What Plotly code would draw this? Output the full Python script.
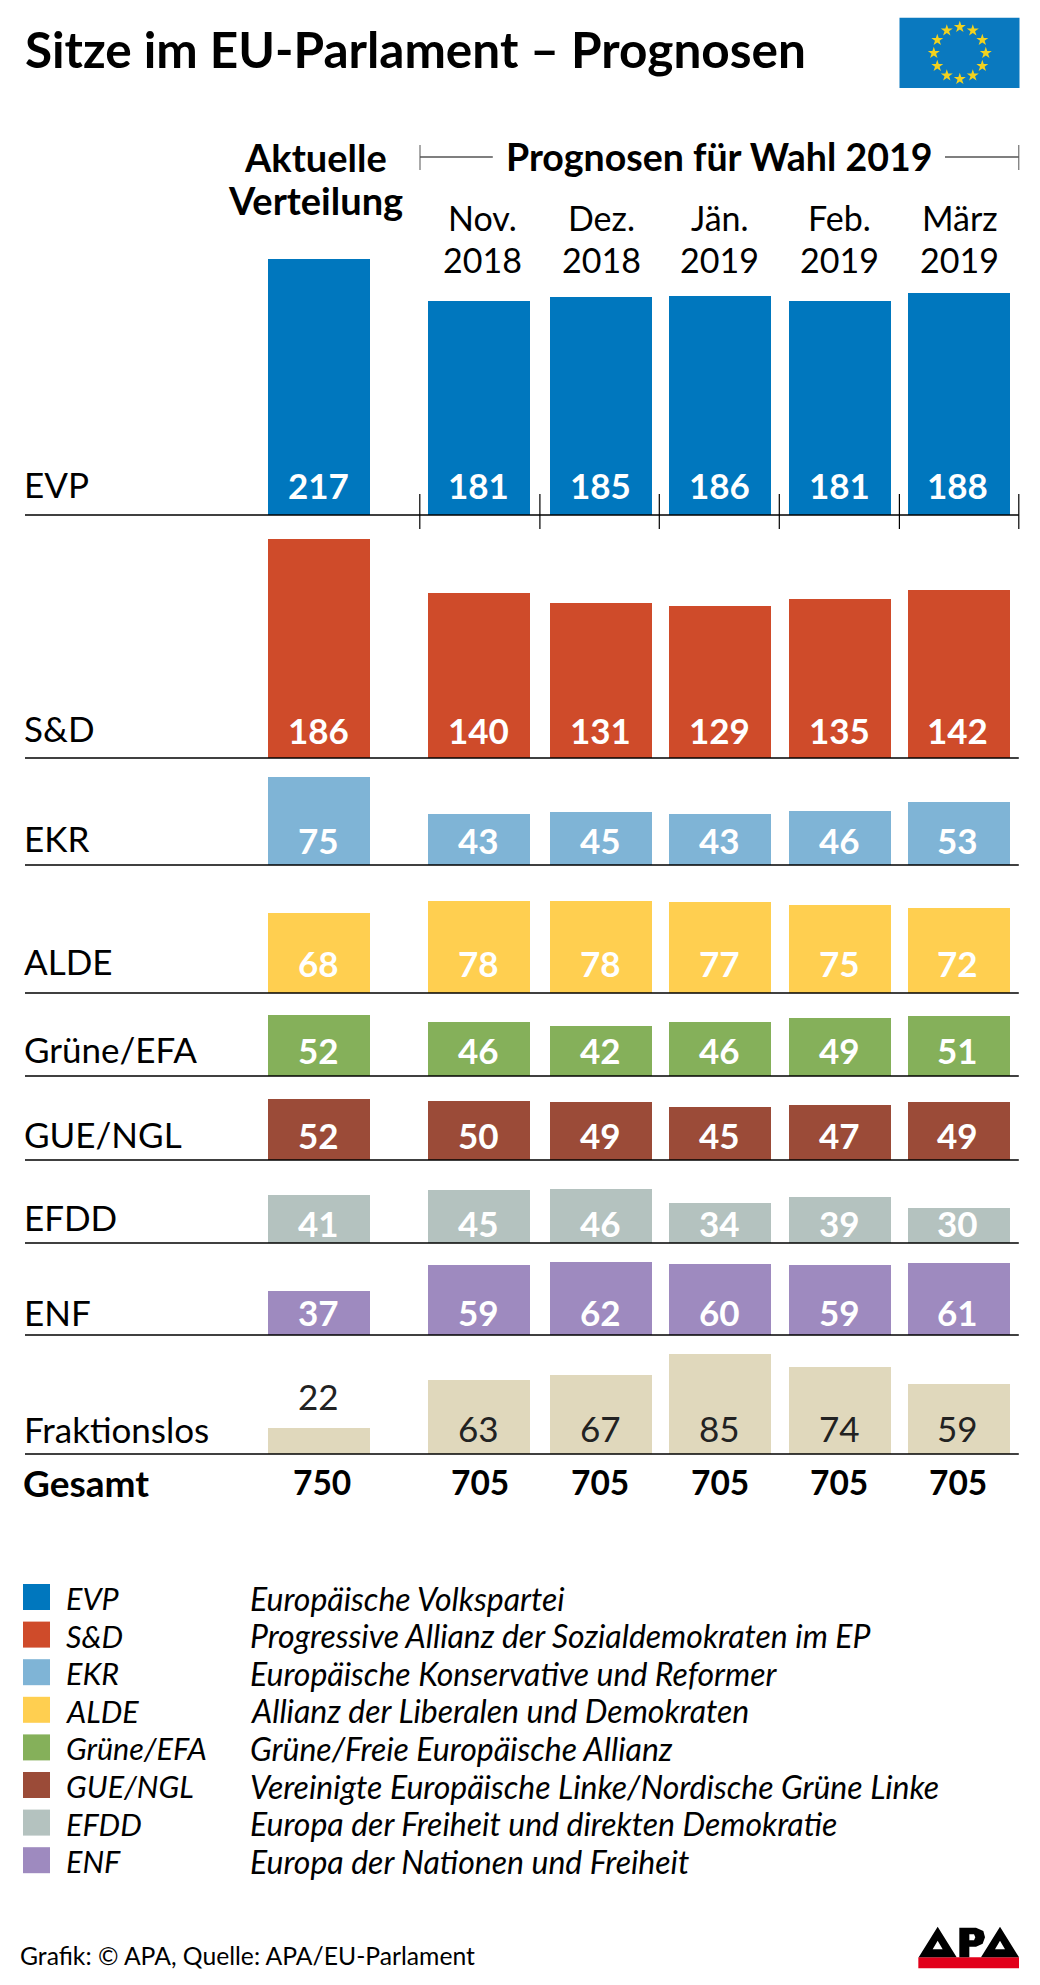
import math
import plotly.graph_objects as go

PARTIES = ["EVP", "S&D", "EKR", "ALDE", "Grüne/EFA", "GUE/NGL", "EFDD", "ENF", "Fraktionslos"]
COLUMNS = ["Aktuelle Verteilung", "Nov. 2018", "Dez. 2018", "Jän. 2019", "Feb. 2019", "März 2019"]
EVP = [217, 181, 185, 186, 181, 188]
SD = [186, 140, 131, 129, 135, 142]
EKR = [75, 43, 45, 43, 46, 53]
ALDE = [68, 78, 78, 77, 75, 72]
GRUENE = [52, 46, 42, 46, 49, 51]
GUE = [52, 50, 49, 45, 47, 49]
EFDD = [41, 45, 46, 34, 39, 30]
ENF = [37, 59, 62, 60, 59, 61]
FRAKTIONSLOS = [22, 63, 67, 85, 74, 59]
GESAMT = [750, 705, 705, 705, 705, 705]
MONTHS = [("Nov.", "2018"), ("Dez.", "2018"), ("Jän.", "2019"), ("Feb.", "2019"), ("März", "2019")]
LEGEND_NAMES = [
    "Europäische Volkspartei",
    "Progressive Allianz der Sozialdemokraten im EP",
    "Europäische Konservative und Reformer",
    "Allianz der Liberalen und Demokraten",
    "Grüne/Freie Europäische Allianz",
    "Vereinigte Europäische Linke/Nordische Grüne Linke",
    "Europa der Freiheit und direkten Demokratie",
    "Europa der Nationen und Freiheit",
]
SERIES = [EVP, SD, EKR, ALDE, GRUENE, GUE, EFDD, ENF, FRAKTIONSLOS]
COLORS = ["#0077BE", "#CF4B2A", "#7FB4D6", "#FFCF50", "#85B05A", "#9B4B38", "#B4C2BF", "#9E8ABF", "#E0D8BC"]

# layout (pixels)
W, H = 1040, 1985
FONT = "Lato"
PX_PER_SEAT = 1.18
BASELINES = [515, 758, 865, 993, 1076, 1160, 1243, 1335, 1454]
ROW_LABEL_Y = [483.5, 727.5, 838.5, 961, 1049, 1134, 1217, 1311.5, 1429]
VALUE_Y = [485, 730, 840, 963, 1050, 1135, 1223, 1312, 1428]
COL_X = [319.4, 479.2, 601.3, 720, 840, 958.7]
VALUE_X = [318.4, 478.2, 600.3, 719, 839, 957.7]
TOTAL_X = [322.3, 480, 600, 719.6, 839, 958.4]
MONTH_X = [482, 601.6, 719.6, 839.7, 959.7]
TICK_X = [419.8, 539.9, 659.3, 779.3, 899.4, 1018.8]
BAR_W = 102


def yp(y):
    return 1 - y / H


anns = []
shapes = []


def text(x, y, s, size, bold=False, italic=False, color="black", anchor="center"):
    t = f"<b>{s}</b>" if bold else s
    t = f"<i>{t}</i>" if italic else t
    anns.append(dict(x=x, y=yp(y), xref="x", yref="paper", text=t, showarrow=False,
                     xanchor=anchor, yanchor="middle", font=dict(family=FONT, size=size, color=color)))


def line(x0, y0, x1, y1, color="black", width=1.5):
    shapes.append(dict(type="line", xref="x", yref="paper", x0=x0, x1=x1, y0=yp(y0), y1=yp(y1),
                       line=dict(color=color, width=width)))


def rect(x0, y0, x1, y1, color, layer="above"):
    shapes.append(dict(type="rect", xref="x", yref="paper", x0=x0, x1=x1, y0=yp(y0), y1=yp(y1),
                       fillcolor=color, line=dict(width=0), layer=layer))


def poly(rings, color):
    d = " ".join("M" + " L".join(f"{x},{yp(y)}" for x, y in ring) + " Z" for ring in rings)
    shapes.append(dict(type="path", xref="x", yref="paper", path=d, fillcolor=color, line=dict(width=0)))


fig = go.Figure()
layout_axes = {}
prev = 230
for i, (vals, color, base) in enumerate(zip(SERIES, COLORS, BASELINES)):
    name = f"y{i + 1}" if i else "y"
    key = f"yaxis{i + 1}" if i else "yaxis"
    fig.add_trace(go.Bar(x=COL_X, y=vals, width=BAR_W, yaxis=name, marker=dict(color=color, line=dict(width=0)),
                         name=PARTIES[i], hovertext=COLUMNS, showlegend=False))
    layout_axes[key] = dict(domain=[yp(base), yp(prev)], range=[0, (base - prev) / PX_PER_SEAT],
                            anchor="x", visible=False, fixedrange=True)
    prev = base
    line(25, base, 1018.8, base)
    text(22, ROW_LABEL_Y[i], PARTIES[i], 35, anchor="left")
    for j, v in enumerate(vals):
        last = i == len(SERIES) - 1
        text(VALUE_X[j], VALUE_Y[i] if not (last and j == 0) else 1396, str(v), 35, bold=not last,
             color="#222222" if last else "white")

# full-page axis for the flag stars
layout_axes["yaxis10"] = dict(domain=[0, 1], range=[H, 0], anchor="x", visible=False, fixedrange=True)

# header
text(315, 157, "Aktuelle", 38, bold=True)
text(315, 200, "Verteilung", 38, bold=True)
text(718.6, 157, "Prognosen für Wahl 2019", 37.5, bold=True)
line(420, 157, 492.8, 157, "#555555")
line(945, 157, 1018.8, 157, "#555555")
line(420, 145, 420, 170, "#555555", 1)
line(1018.8, 145, 1018.8, 170, "#555555", 1)
for x, (a, b) in zip(MONTH_X, MONTHS):
    text(x, 218, a, 34)
    text(x, 259, b, 34)
for x in TICK_X:
    line(x, 494, x, 529, "black", 1.2)

# title + flag
text(23, 49, "Sitze im EU-Parlament – Prognosen", 49.5, bold=True, anchor="left")
rect(899.5, 17.7, 1019.5, 88, "#0A79BF", layer="below")
cx, cy, r = 959.8, 53, 26
fig.add_trace(go.Scatter(
    x=[cx + r * math.sin(k * math.pi / 6) for k in range(12)],
    y=[cy - r * math.cos(k * math.pi / 6) for k in range(12)],
    yaxis="y10", mode="markers", showlegend=False, hoverinfo="skip",
    marker=dict(symbol="star", size=9, color="#F2D21F", line=dict(width=0))))

# totals
text(21, 1482, "Gesamt", 37, bold=True, anchor="left")
for x, v in zip(TOTAL_X, GESAMT):
    text(x, 1482, str(v), 33.5, bold=True)

# legend
for i, (p, n) in enumerate(zip(PARTIES, LEGEND_NAMES)):
    y = 1597 + 37.6 * i
    rect(23, y - 13, 50, y + 13, COLORS[i])
    text(64, y + 1, p, 30.5, italic=True, anchor="left")
    text(248, y + 1, n, 32, italic=True, anchor="left")

# footer
text(17.5, 1955, "Grafik: © APA, Quelle: APA/EU-Parlament", 24.7, anchor="left")

# APA logo
def lx(v):
    return 900 + v / 3


def ly(v):
    return 1905 + v / 3


rect(lx(55), ly(157), lx(357), ly(190), "#E2001A")
for ax in (113, 300):
    poly([[(lx(ax - 57), ly(157)), (lx(ax), ly(65)), (lx(ax + 57), ly(157))],
          [(lx(ax - 15), ly(133)), (lx(ax + 15), ly(133)), (lx(ax), ly(107))]], "black")
poly([[(lx(178), ly(157)), (lx(178), ly(68)), (lx(228), ly(68)), (lx(250), ly(78)), (lx(255), ly(97)),
       (lx(248), ly(116)), (lx(228), ly(125)), (lx(208), ly(125)), (lx(208), ly(157))],
      [(lx(208), ly(88)), (lx(208), ly(106)), (lx(222), ly(106)), (lx(226), ly(97)), (lx(222), ly(88))]], "black")

fig.update_layout(
    width=W, height=H, margin=dict(l=0, r=0, t=0, b=0), paper_bgcolor="white", plot_bgcolor="rgba(0,0,0,0)",
    xaxis=dict(range=[0, W], domain=[0, 1], visible=False, fixedrange=True),
    annotations=anns, shapes=shapes, bargap=0, **layout_axes,
)
fig.write_html("out.html", post_script="document.body.style.margin='0';", config={"displayModeBar": False})
